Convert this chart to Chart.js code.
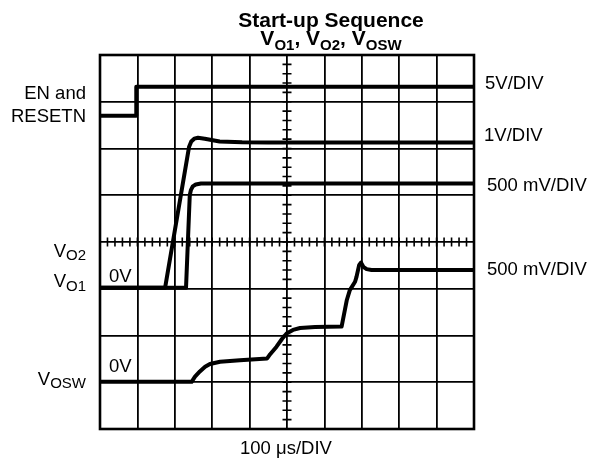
<!DOCTYPE html>
<html>
<head>
<meta charset="utf-8">
<script src="https://cdn.jsdelivr.net/npm/chart.js@4.4.0/dist/chart.umd.min.js"></script>
<style>
  body { margin: 0; background: #fff; }
  #wrap { position: relative; width: 592px; height: 460px; font-family: "Liberation Sans", Arial, sans-serif; color: #000; }
  #wrap canvas { position: absolute; left: 0; top: 0; }
  .lbl { position: absolute; line-height: 1; white-space: nowrap; }
  .lbl sub { font-size: 15px; line-height: 0; }
</style>
</head>
<body>
<div id="wrap">
  <canvas id="scope" width="592" height="460"></canvas>
</div>
<script>
// x in time divisions (100 us/div), y in screen divisions (0 = bottom)
var enX = [0, 0.97, 0.97, 10];
var enY = [6.70, 6.70, 7.32, 7.32];

var vo1X = [0, 1.74, 2.38, 2.44, 2.52, 2.62, 2.80, 3.20, 3.80, 4.50, 10];
var vo1Y = [3.02, 3.02, 6.03, 6.15, 6.21, 6.23, 6.21, 6.15, 6.135, 6.13, 6.13];

var vo2X = [0, 2.30, 2.40, 2.43, 2.48, 2.56, 2.70, 10];
var vo2Y = [3.02, 3.02, 5.00, 5.11, 5.19, 5.23, 5.25, 5.25];

var voswX = [0, 2.45, 2.54, 2.67, 2.81, 2.94, 3.21, 3.74, 4.47, 4.55, 4.72, 4.87, 5.00, 5.16, 5.35, 5.75, 6.46,
             6.60, 6.68, 6.82, 6.86, 6.93, 6.98, 7.04, 7.13, 7.26, 10];
var voswY = [1.01, 1.01, 1.12, 1.23, 1.33, 1.39, 1.44, 1.47, 1.51, 1.60, 1.76, 1.93, 2.05, 2.12, 2.16, 2.18, 2.19,
             2.76, 2.97, 3.15, 3.26, 3.51, 3.56, 3.47, 3.42, 3.40, 3.40];

function pts(xs, ys) {
    return xs.map(function(x, i) { return {x: x, y: ys[i]}; });
}

function trace(label, xs, ys) {
    return {
        label: label,
        data: pts(xs, ys),
        borderColor: '#000',
        borderWidth: 4,
        borderJoinStyle: 'round',
        pointRadius: 0,
        tension: 0,
        fill: false
    };
}

// center axis minor ticks and the outer frame
var scopeDecor = {
    id: 'scopeDecor',
    beforeDatasetsDraw: function(chart) {
        var ctx = chart.ctx, xs = chart.scales.x, ys = chart.scales.y;
        var cx = xs.getPixelForValue(5), cy = ys.getPixelForValue(4);
        ctx.save();
        ctx.strokeStyle = '#000';
        ctx.lineWidth = 1.6;
        ctx.beginPath();
        for (var i = 1; i < 40; i++) {
            var py = ys.getPixelForValue(i / 5);
            ctx.moveTo(cx - 4.5, py); ctx.lineTo(cx + 4.5, py);
        }
        for (var j = 1; j < 50; j++) {
            var px = xs.getPixelForValue(j / 5);
            ctx.moveTo(px, cy - 4.5); ctx.lineTo(px, cy + 4.5);
        }
        ctx.stroke();
        ctx.restore();
    },
    afterDraw: function(chart) {
        var a = chart.chartArea, ctx = chart.ctx;
        ctx.save();
        ctx.strokeStyle = '#000';
        ctx.lineWidth = 2.6;
        ctx.strokeRect(a.left, a.top, a.right - a.left, a.bottom - a.top);
        ctx.restore();
    }
};

var config = {
    type: 'line',
    data: {
        datasets: [
            trace('EN and RESETN', enX, enY),
            trace('VO1', vo1X, vo1Y),
            trace('VO2', vo2X, vo2Y),
            trace('VOSW', voswX, voswY)
        ]
    },
    options: {
        responsive: false,
        animation: false,
        layout: { padding: { left: 100, right: 118, top: 55, bottom: 31 } },
        plugins: { legend: { display: false }, title: { display: false }, tooltip: { enabled: false } },
        scales: {
            x: {
                type: 'linear', min: 0, max: 10,
                ticks: { display: false, stepSize: 1 },
                grid: { color: '#000', lineWidth: 1.8, drawTicks: false },
                border: { display: false }
            },
            y: {
                type: 'linear', min: 0, max: 8,
                ticks: { display: false, stepSize: 1 },
                grid: { color: '#000', lineWidth: 1.8, drawTicks: false },
                border: { display: false }
            }
        }
    },
    plugins: [scopeDecor]
};

// text labels: [html, x, baseline, size, bold, align]
var labels = [
    ['Start-up Sequence', 331, 27, 21, true, 'center'],
    ['V<sub style="font-size:15px;vertical-align:-5px">O1</sub>, V<sub style="font-size:15px;vertical-align:-5px">O2</sub>, V<sub style="font-size:15px;vertical-align:-5px">OSW</sub>', 331, 45, 21, true, 'center'],
    ['EN and', 86, 100, 18.5, false, 'right'],
    ['RESETN', 86, 123, 18.5, false, 'right'],
    ['V<sub style="vertical-align:-3px">O2</sub>', 86, 258, 18.5, false, 'right'],
    ['V<sub style="vertical-align:-4px">O1</sub>', 86, 288, 18.5, false, 'right'],
    ['V<sub style="vertical-align:-3px">OSW</sub>', 86, 386, 18.5, false, 'right'],
    ['0V', 109, 282.5, 18.5, false, 'left'],
    ['0V', 109, 372.5, 18.5, false, 'left'],
    ['5V/DIV', 485, 90, 18.5, false, 'left'],
    ['1V/DIV', 484, 141.5, 18.5, false, 'left'],
    ['500 mV/DIV', 487, 191.5, 18.5, false, 'left'],
    ['500 mV/DIV', 487, 275.5, 18.5, false, 'left'],
    ['100 \u03bcs/DIV', 286, 455, 18.5, false, 'center']
];

function addLabels() {
    var wrap = document.getElementById('wrap');
    labels.forEach(function(l) {
        var d = document.createElement('div');
        d.className = 'lbl';
        d.innerHTML = l[0];
        d.style.fontSize = l[3] + 'px';
        d.style.fontWeight = l[4] ? 'bold' : 'normal';
        d.style.top = (l[2] - 0.8465 * l[3]) + 'px';
        if (l[5] === 'right') {
            d.style.right = (592 - l[1]) + 'px';
        } else if (l[5] === 'center') {
            d.style.left = l[1] + 'px';
            d.style.transform = 'translateX(-50%)';
        } else {
            d.style.left = l[1] + 'px';
        }
        wrap.appendChild(d);
    });
}

window.onload = function() {
    var ctx = document.getElementById('scope').getContext('2d');
    window.scopeChart = new Chart(ctx, config);
    addLabels();
};
</script>
</body>
</html>
